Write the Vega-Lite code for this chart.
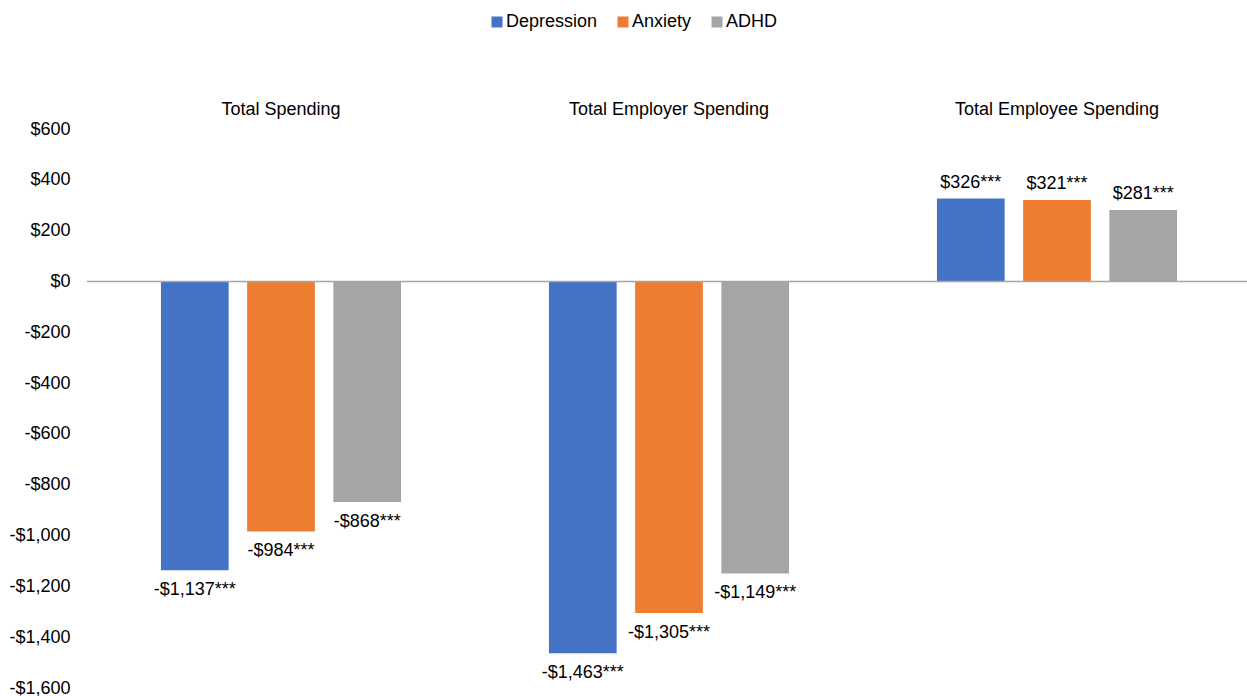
{
  "$schema": "https://vega.github.io/schema/vega-lite/v6.json",
  "width": 1160,
  "height": 559,
  "autosize": {"type": "none"},
  "padding": {"left": 87, "top": 129, "right": 0, "bottom": 8},
  "background": "white",
  "config": {
    "view": {"stroke": null},
    "font": "Liberation Sans",
    "legend": {
      "orient": "none",
      "legendX": 401,
      "legendY": -116,
      "direction": "horizontal",
      "title": null,
      "symbolType": "square",
      "symbolSize": 121,
      "symbolStrokeWidth": 0,
      "labelFontSize": 18,
      "labelColor": "#000000",
      "labelFont": "Liberation Sans",
      "labelOffset": 0,
      "columnPadding": 16
    }
  },
  "data": {
    "values": [
      {"measure": "Total Spending", "series": "Depression", "value": -1137, "label": "-$1,137***"},
      {"measure": "Total Spending", "series": "Anxiety", "value": -984, "label": "-$984***"},
      {"measure": "Total Spending", "series": "ADHD", "value": -868, "label": "-$868***"},
      {"measure": "Total Employer Spending", "series": "Depression", "value": -1463, "label": "-$1,463***"},
      {"measure": "Total Employer Spending", "series": "Anxiety", "value": -1305, "label": "-$1,305***"},
      {"measure": "Total Employer Spending", "series": "ADHD", "value": -1149, "label": "-$1,149***"},
      {"measure": "Total Employee Spending", "series": "Depression", "value": 326, "label": "$326***"},
      {"measure": "Total Employee Spending", "series": "Anxiety", "value": 321, "label": "$321***"},
      {"measure": "Total Employee Spending", "series": "ADHD", "value": 281, "label": "$281***"}
    ]
  },
  "encoding": {
    "x": {
      "field": "measure",
      "type": "nominal",
      "sort": ["Total Spending", "Total Employer Spending", "Total Employee Spending"],
      "scale": {"range": [0, 1164], "paddingInner": 0, "paddingOuter": 0},
      "axis": {
        "orient": "top",
        "title": null,
        "labelAngle": 0,
        "labelLimit": 0,
        "domain": false,
        "ticks": false,
        "tickSize": 0,
        "labelPadding": 15,
        "labelBaseline": "alphabetic",
        "labelFontSize": 18,
        "labelColor": "#000000",
        "labelFont": "Liberation Sans"
      }
    },
    "xOffset": {
      "field": "series",
      "type": "nominal",
      "sort": ["Depression", "Anxiety", "ADHD"],
      "scale": {"paddingInner": 0.2146, "paddingOuter": 0.858}
    },
    "y": {
      "field": "value",
      "type": "quantitative",
      "scale": {"domain": [-1600, 600], "nice": false, "zero": false},
      "axis": {
        "title": null,
        "values": [600, 400, 200, 0, -200, -400, -600, -800, -1000, -1200, -1400, -1600],
        "labelExpr": "(datum.value < 0 ? '-' : '') + '$' + format(abs(datum.value), ',')",
        "domain": false,
        "ticks": false,
        "tickSize": 0,
        "grid": false,
        "labelPadding": 17,
        "labelFontSize": 18,
        "labelColor": "#000000",
        "labelFont": "Liberation Sans"
      }
    }
  },
  "layer": [
    {
      "mark": {"type": "bar"},
      "encoding": {
        "color": {
          "field": "series",
          "type": "nominal",
          "sort": ["Depression", "Anxiety", "ADHD"],
          "scale": {"domain": ["Depression", "Anxiety", "ADHD"], "range": ["#4472C4", "#ED7D31", "#A5A5A5"]}
        }
      }
    },
    {
      "transform": [{"filter": "datum.value < 0"}],
      "mark": {"type": "text", "baseline": "top", "dy": 11, "fontSize": 18, "color": "#000000", "font": "Liberation Sans"},
      "encoding": {"text": {"field": "label", "type": "nominal"}}
    },
    {
      "transform": [{"filter": "datum.value >= 0"}],
      "mark": {"type": "text", "baseline": "alphabetic", "dy": -11, "fontSize": 18, "color": "#000000", "font": "Liberation Sans"},
      "encoding": {"text": {"field": "label", "type": "nominal"}}
    },
    {
      "data": {"values": [{"zero": 0}]},
      "mark": {"type": "rule", "color": "#A6A6A6", "strokeWidth": 1.5},
      "encoding": {"y": {"field": "zero", "type": "quantitative"}, "x": null, "xOffset": null}
    }
  ]
}
